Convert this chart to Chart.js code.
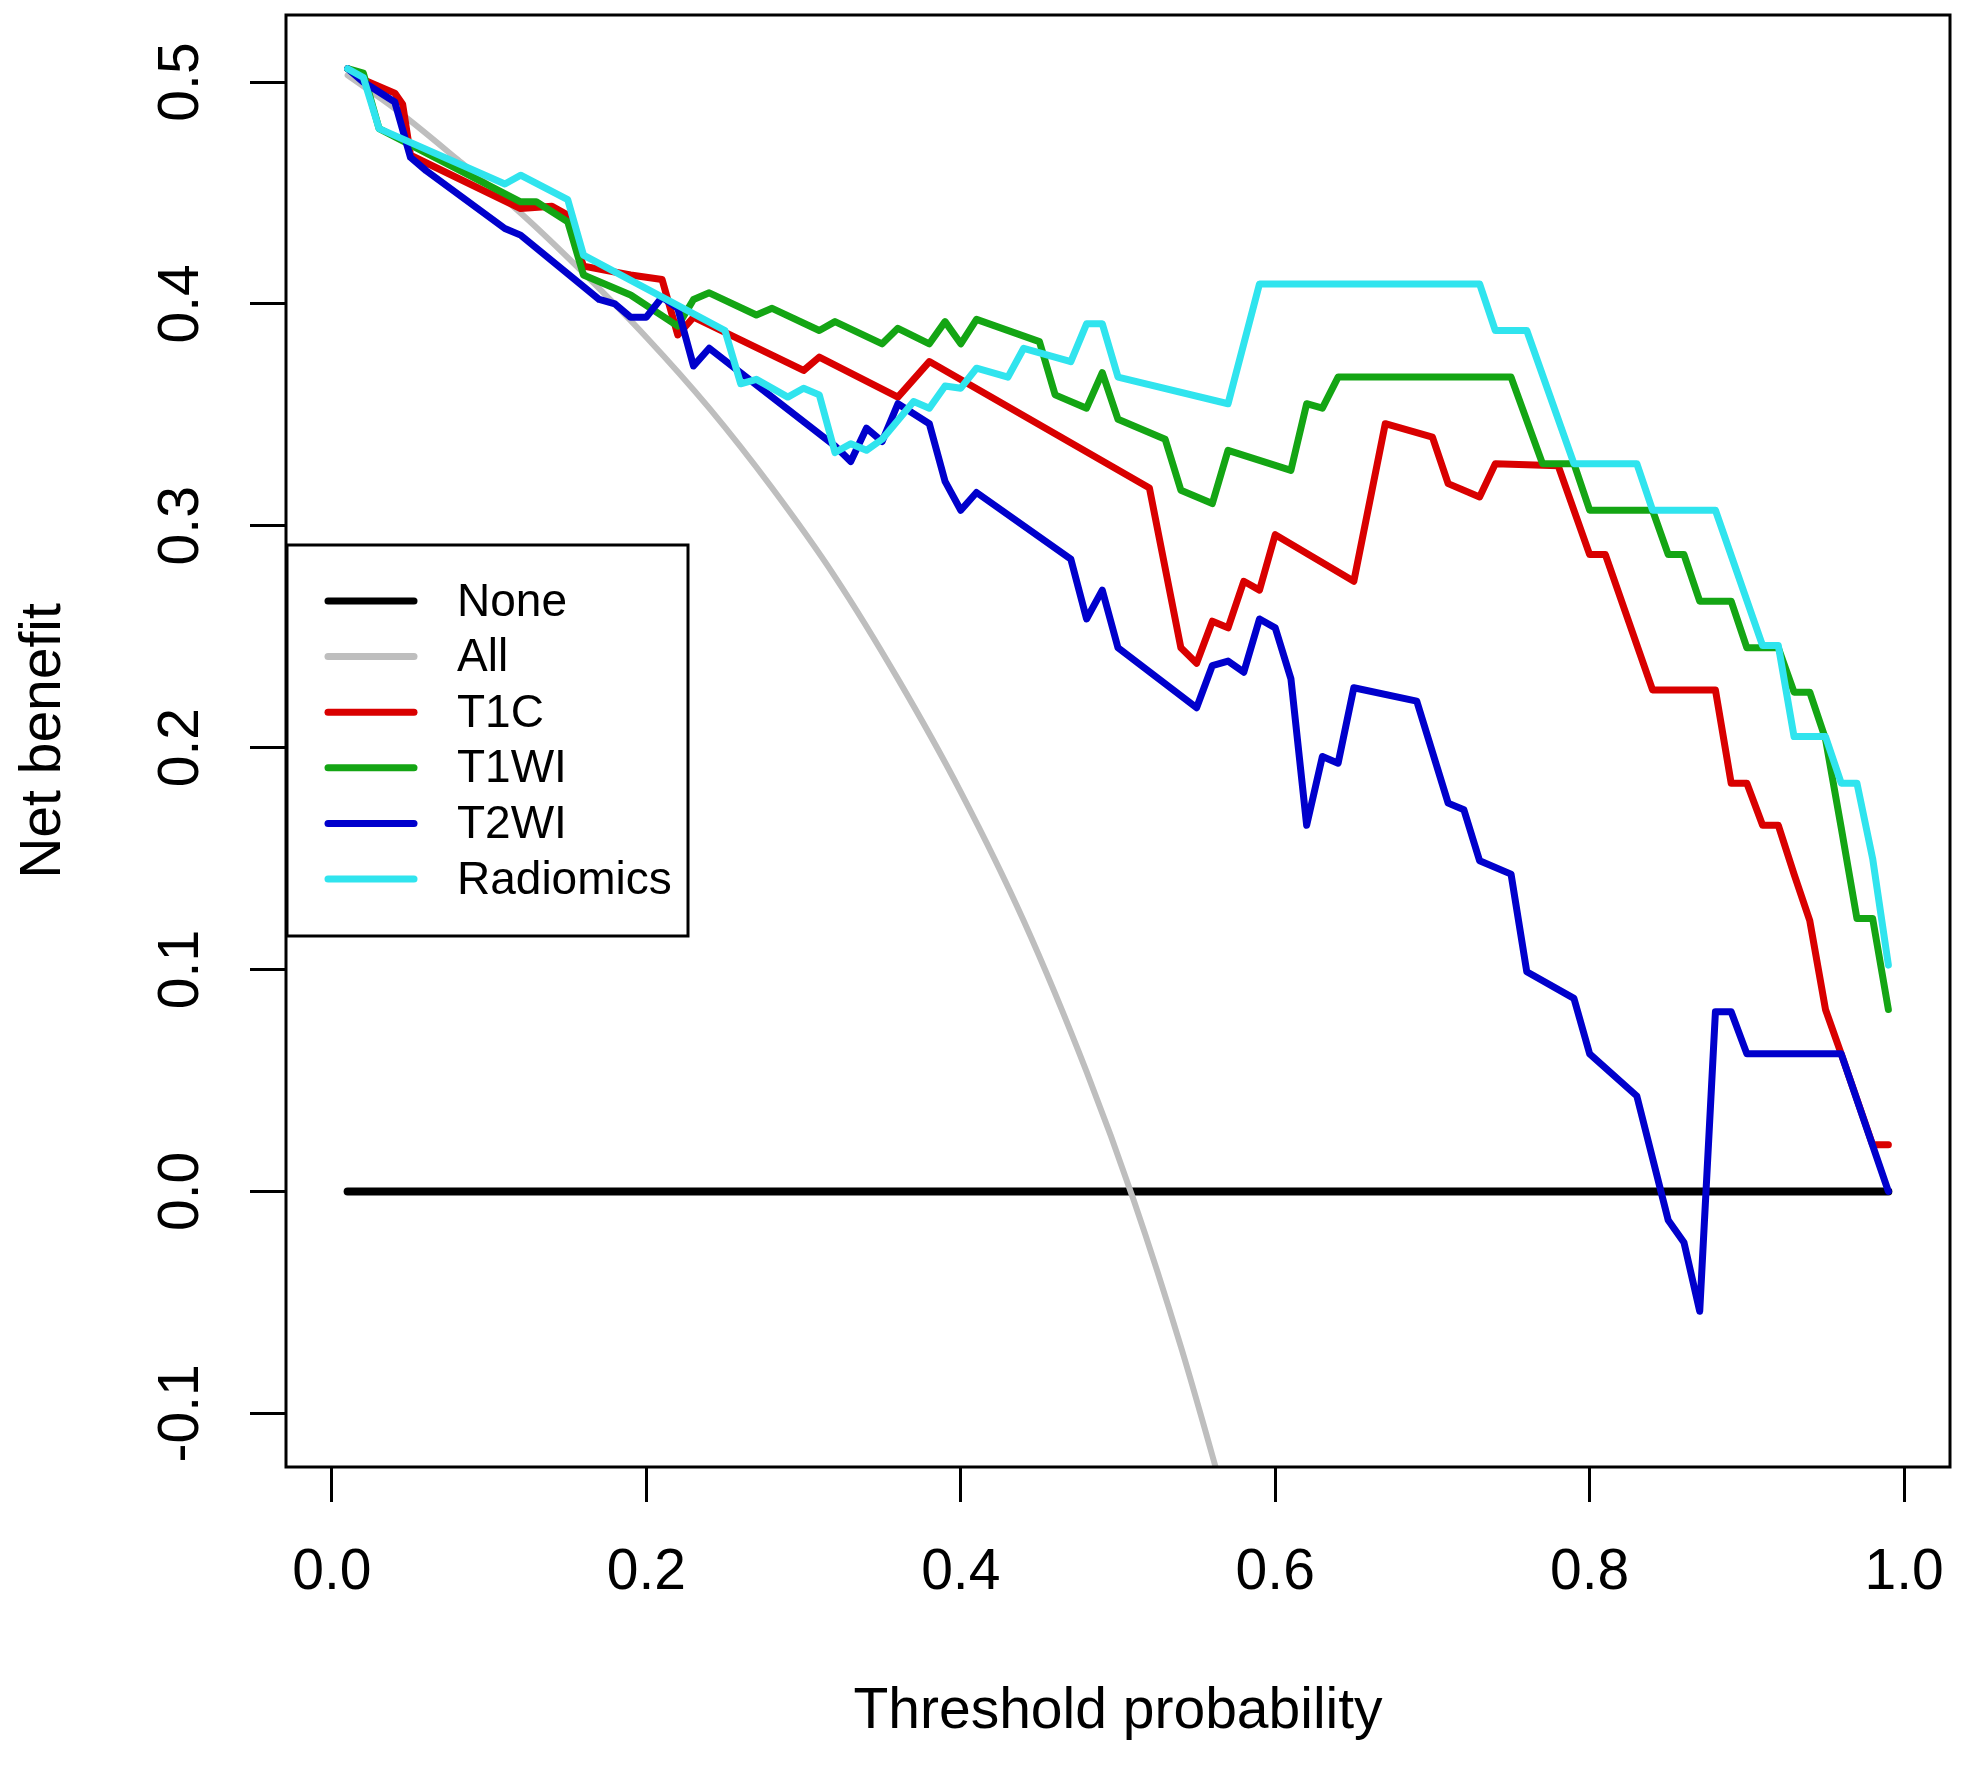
<!DOCTYPE html>
<html>
<head>
<meta charset="utf-8">
<script src="https://cdn.jsdelivr.net/npm/chart.js@4.4.0/dist/chart.umd.min.js"></script>
<style>
  html, body { margin: 0; padding: 0; background: #fff; }
</style>
</head>
<body>
<canvas id="dca" width="1969" height="1765"></canvas>
<script>
// axis ticks
const xTicks = [0, 0.2, 0.4, 0.6, 0.8, 1.0];
const yTicks = [-0.1, 0, 0.1, 0.2, 0.3, 0.4, 0.5];

// reference lines
const noneX = [0.01, 0.99];
const noneY = [0, 0];
const allX = [0.01, 0.04, 0.08, 0.12, 0.16, 0.20, 0.24, 0.28, 0.32, 0.36, 0.40, 0.44, 0.48, 0.51, 0.54, 0.57];
const allY = [0.503, 0.488, 0.465, 0.441, 0.414, 0.385, 0.353, 0.317, 0.277, 0.231, 0.180, 0.122, 0.054, -0.004, -0.070, -0.144];

// T1C
const t1cX = [0.01, 0.02, 0.04, 0.045, 0.05, 0.12, 0.14, 0.15, 0.16, 0.19, 0.21, 0.22, 0.23, 0.30, 0.31, 0.36, 0.38,
  0.52, 0.54, 0.55, 0.56, 0.57, 0.58, 0.59, 0.60, 0.65, 0.67, 0.70, 0.71, 0.73, 0.74, 0.78, 0.80, 0.81, 0.84, 0.88,
  0.89, 0.90, 0.91, 0.92, 0.93, 0.94, 0.95, 0.96, 0.98, 0.99];
const t1cY = [0.506, 0.501, 0.495, 0.490, 0.467, 0.443, 0.444, 0.440, 0.417, 0.413, 0.411, 0.386, 0.394, 0.370, 0.376, 0.358, 0.374,
  0.317, 0.245, 0.238, 0.257, 0.254, 0.275, 0.271, 0.296, 0.275, 0.346, 0.340, 0.319, 0.313, 0.328, 0.327, 0.287, 0.287, 0.226, 0.226,
  0.184, 0.184, 0.165, 0.165, 0.143, 0.122, 0.082, 0.062, 0.021, 0.021];

// T1WI
const t1wiX = [0.01, 0.02, 0.03, 0.12, 0.13, 0.15, 0.16, 0.19, 0.22, 0.23, 0.24, 0.27, 0.28, 0.31, 0.32, 0.35, 0.36, 0.38,
  0.39, 0.40, 0.41, 0.45, 0.46, 0.48, 0.49, 0.50, 0.53, 0.54, 0.56, 0.57, 0.61, 0.62, 0.63, 0.64, 0.75, 0.77, 0.79,
  0.80, 0.84, 0.85, 0.86, 0.87, 0.89, 0.90, 0.92, 0.93, 0.94, 0.95, 0.96, 0.97, 0.98, 0.99];
const t1wiY = [0.506, 0.504, 0.479, 0.446, 0.446, 0.437, 0.413, 0.404, 0.390, 0.402, 0.405, 0.395, 0.398, 0.388, 0.392, 0.382, 0.389, 0.382,
  0.392, 0.382, 0.393, 0.383, 0.359, 0.353, 0.369, 0.348, 0.339, 0.316, 0.310, 0.334, 0.325, 0.355, 0.353, 0.367, 0.367, 0.328, 0.328,
  0.307, 0.307, 0.287, 0.287, 0.266, 0.266, 0.245, 0.245, 0.225, 0.225, 0.204, 0.164, 0.123, 0.123, 0.082];

// T2WI
const t2wiX = [0.01, 0.02, 0.04, 0.05, 0.06, 0.11, 0.12, 0.17, 0.18, 0.19, 0.20, 0.21, 0.22, 0.23, 0.24, 0.26, 0.32, 0.33,
  0.34, 0.35, 0.36, 0.38, 0.39, 0.40, 0.41, 0.47, 0.48, 0.49, 0.50, 0.55, 0.56, 0.57, 0.58, 0.59, 0.60, 0.61, 0.62,
  0.63, 0.64, 0.65, 0.69, 0.71, 0.72, 0.73, 0.75, 0.76, 0.79, 0.80, 0.83, 0.85, 0.86, 0.87, 0.88, 0.89, 0.90, 0.96, 0.99];
const t2wiY = [0.506, 0.500, 0.491, 0.466, 0.460, 0.434, 0.431, 0.402, 0.400, 0.394, 0.394, 0.403, 0.398, 0.372, 0.380, 0.369, 0.336, 0.329,
  0.344, 0.338, 0.355, 0.346, 0.320, 0.307, 0.315, 0.285, 0.258, 0.271, 0.245, 0.218, 0.237, 0.239, 0.234, 0.258, 0.254, 0.231, 0.165,
  0.196, 0.193, 0.227, 0.221, 0.175, 0.172, 0.149, 0.143, 0.099, 0.087, 0.062, 0.043, -0.013, -0.023, -0.054, 0.081, 0.081, 0.062, 0.062, 0.000];

// Radiomics
const radX = [0.01, 0.02, 0.03, 0.11, 0.12, 0.15, 0.16, 0.25, 0.26, 0.27, 0.29, 0.30, 0.31, 0.32, 0.33, 0.34, 0.35, 0.37,
  0.38, 0.39, 0.40, 0.41, 0.43, 0.44, 0.47, 0.48, 0.49, 0.50, 0.57, 0.59, 0.73, 0.74, 0.76, 0.79, 0.83, 0.84, 0.88,
  0.91, 0.92, 0.93, 0.95, 0.96, 0.97, 0.98, 0.99];
const radY = [0.506, 0.502, 0.479, 0.454, 0.458, 0.447, 0.422, 0.388, 0.364, 0.366, 0.358, 0.362, 0.359, 0.333, 0.337, 0.334, 0.339, 0.356,
  0.353, 0.363, 0.362, 0.371, 0.367, 0.380, 0.374, 0.391, 0.391, 0.367, 0.355, 0.409, 0.409, 0.388, 0.388, 0.328, 0.328, 0.307, 0.307,
  0.246, 0.246, 0.205, 0.205, 0.184, 0.184, 0.150, 0.102];

const FONT = "'Liberation Sans', Arial, sans-serif";

function pts(xs, ys) {
  return xs.map((x, i) => ({ x: x, y: ys[i] }));
}

function series(label, xs, ys, color, width, order) {
  return {
    label: label,
    data: pts(xs, ys),
    borderColor: color,
    backgroundColor: color,
    borderWidth: width,
    borderJoinStyle: 'round',
    borderCapStyle: 'round',
    pointRadius: 0,
    fill: false,
    clip: 0,
    order: order
  };
}

const datasets = [
  series('None', noneX, noneY, '#000000', 8, 6),
  Object.assign(series('All', allX, allY, '#BEBEBE', 6, 5), { cubicInterpolationMode: 'monotone' }),
  series('T1C', t1cX, t1cY, '#D90000', 7, 4),
  series('T1WI', t1wiX, t1wiY, '#14A514', 7, 3),
  series('T2WI', t2wiX, t2wiY, '#0000CC', 7, 2),
  series('Radiomics', radX, radY, '#30E4EE', 7, 1)
];

// R-style frame plus the legend box in the left middle
const framePlugin = {
  id: 'frame',
  afterDatasetsDraw(chart) {
    const ctx = chart.ctx;
    const a = chart.chartArea;
    ctx.save();
    ctx.strokeStyle = '#000';
    ctx.lineWidth = 3;
    ctx.strokeRect(a.left, a.top, a.right - a.left, a.bottom - a.top);

    // legend
    const lx = a.left + 1, ly = 545, lw = 401, lh = 391;
    ctx.fillStyle = '#fff';
    ctx.fillRect(lx, ly, lw, lh);
    ctx.strokeRect(lx, ly, lw, lh);
    ctx.font = '46px ' + FONT;
    ctx.textBaseline = 'middle';
    ctx.textAlign = 'left';
    chart.data.datasets.forEach((ds, i) => {
      const y = 601 + i * 55.6;
      ctx.strokeStyle = ds.borderColor;
      ctx.lineWidth = 7;
      ctx.lineCap = 'round';
      ctx.beginPath();
      ctx.moveTo(lx + 41, y);
      ctx.lineTo(lx + 127, y);
      ctx.stroke();
      ctx.fillStyle = '#000';
      ctx.fillText(ds.label, lx + 170, y + 2);
    });
    ctx.restore();
  }
};

// keep the plot box where the reference has it
function noPad(scale) {
  scale.paddingTop = 0;
  scale.paddingBottom = 0;
  scale.paddingLeft = 0;
  scale.paddingRight = 0;
}

new Chart(document.getElementById('dca').getContext('2d'), {
  type: 'line',
  data: { datasets: datasets },
  plugins: [framePlugin],
  options: {
    responsive: false,
    devicePixelRatio: 1,
    animation: false,
    layout: { padding: { top: 15, right: 19, left: 0, bottom: 0 } },
    plugins: { legend: { display: false }, tooltip: { enabled: false } },
    scales: {
      x: {
        type: 'linear',
        min: -0.0292,
        max: 1.0292,
        afterFit(scale) { scale.height = 298; noPad(scale); },
        afterBuildTicks(scale) { scale.ticks = xTicks.map(v => ({ value: v })); },
        border: { display: false },
        grid: { drawOnChartArea: false, drawTicks: true, tickLength: 35, color: '#000', lineWidth: 3 },
        ticks: {
          autoSkip: false,
          maxRotation: 0,
          padding: 37,
          color: '#000',
          font: { family: FONT, size: 57 },
          callback: v => v.toFixed(1)
        },
        title: {
          display: true,
          text: 'Threshold probability',
          color: '#000',
          font: { family: FONT, size: 57 },
          padding: { top: 0, bottom: 19 }
        }
      },
      y: {
        type: 'linear',
        min: -0.1242,
        max: 0.5302,
        afterFit(scale) { scale.width = 286; noPad(scale); },
        afterBuildTicks(scale) { scale.ticks = yTicks.map(v => ({ value: v })); },
        border: { display: false },
        grid: { drawOnChartArea: false, drawTicks: true, tickLength: 36, color: '#000', lineWidth: 3 },
        ticks: {
          autoSkip: false,
          minRotation: 90,
          maxRotation: 90,
          crossAlign: 'center',
          padding: 19,
          color: '#000',
          font: { family: FONT, size: 57 },
          callback: v => v.toFixed(1)
        },
        title: {
          display: true,
          text: 'Net benefit',
          color: '#000',
          font: { family: FONT, size: 57 },
          padding: { top: 10, bottom: 0 }
        }
      }
    }
  }
});
</script>
</body>
</html>
